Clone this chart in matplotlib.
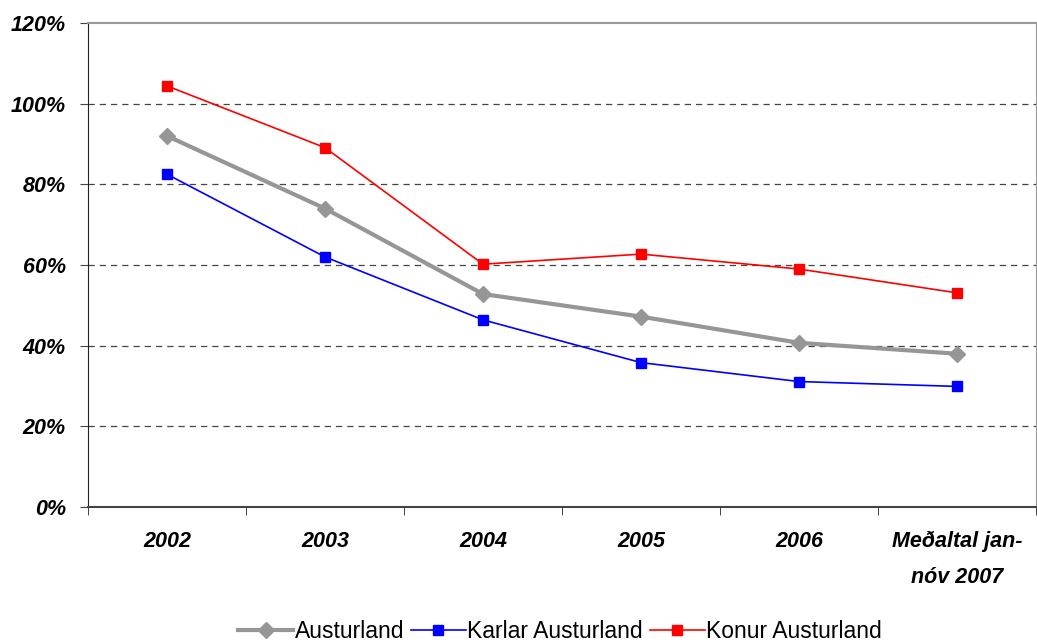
import numpy as np
import matplotlib.pyplot as plt

categories = ['2002', '2003', '2004', '2005', '2006', 'Meðaltal jan-\nnóv 2007']
austurland = [92.0, 74.0, 52.8, 47.2, 40.7, 38.0]
karlar = [82.5, 62.0, 46.4, 35.8, 31.1, 29.9]
konur = [104.4, 89.1, 60.2, 62.7, 59.0, 53.1]
yticks = [0, 20, 40, 60, 80, 100, 120]

plt.rcParams['font.family'] = ['Liberation Sans', 'DejaVu Sans']

fig = plt.figure(figsize=(10.37, 6.43), dpi=100)
ax = fig.add_axes([88/1037, 1-507/643, (1036-88)/1037, (507-23)/643])

x = np.arange(len(categories))
ax.plot(x, austurland, color='#969696', lw=3, marker='D', ms=8, label='Austurland', zorder=3)
ax.plot(x, karlar, color='#0000ff', lw=1.2, marker='s', ms=6.5, label='Karlar Austurland', zorder=3)
ax.plot(x, konur, color='#ff0000', lw=1.2, marker='s', ms=6.5, label='Konur Austurland', zorder=3)

ax.set_xlim(-0.5, len(categories) - 0.5)
ax.set_ylim(0, 120)
ax.set_yticks(yticks)
ax.set_yticklabels([f'{v}%' for v in yticks], fontsize=15.5, fontweight='bold', fontstyle='italic')
for v in yticks[1:-1]:
    ax.axhline(v, color='#444444', lw=0.9, ls=(0, (5, 4)), zorder=1)

ax.set_xticks(x)
ax.set_xticklabels(categories, fontsize=15.5, fontweight='bold', fontstyle='italic', linespacing=1.95)
ax.set_xticks(np.arange(len(categories) + 1) - 0.5, minor=True)
ax.tick_params(axis='x', which='major', length=0, pad=17)
ax.tick_params(axis='x', which='minor', length=6, direction='out', color='#222222')
ax.tick_params(axis='y', length=6, direction='out', color='#444444', pad=10)

ax.spines['left'].set_color('#222222')
ax.spines['bottom'].set_color('#444444')
ax.spines['bottom'].set_linewidth(1.5)
ax.spines['top'].set_color('#9a9a9a')
ax.spines['top'].set_linewidth(1.5)
ax.spines['right'].set_color('#9a9a9a')

fig.legend(loc='lower center', bbox_to_anchor=(0.54, -0.032), ncol=3, frameon=False,
           fontsize=16.5, handlelength=2.4, handletextpad=0.05, columnspacing=0.3)

fig.savefig('out.png', dpi=100)
